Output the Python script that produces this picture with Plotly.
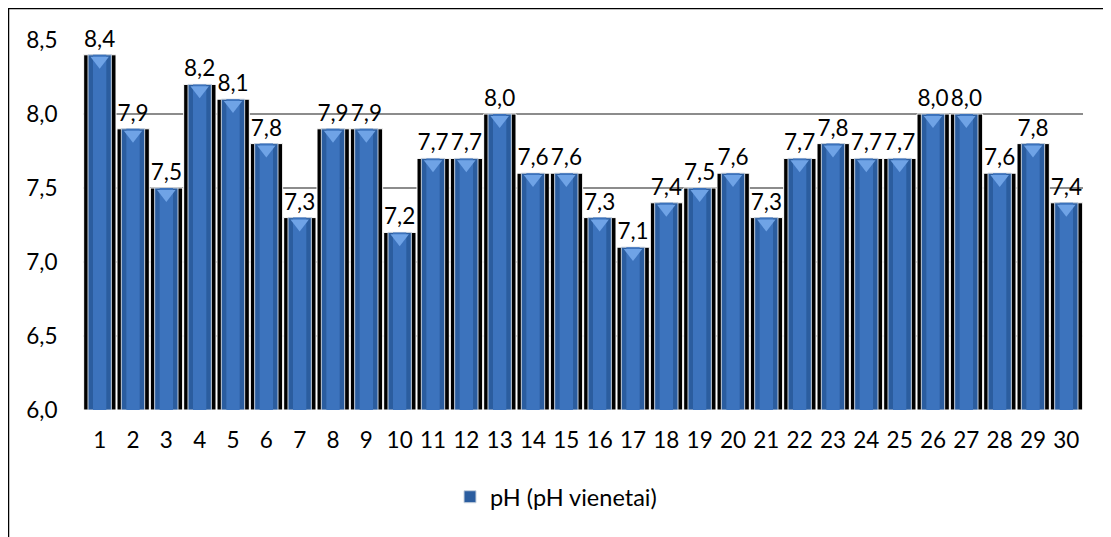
import plotly.graph_objects as go

categories = [str(i) for i in range(1, 31)]
ph_values = [8.4, 7.9, 7.5, 8.2, 8.1, 7.8, 7.3, 7.9, 7.9, 7.2,
             7.7, 7.7, 8.0, 7.6, 7.6, 7.3, 7.1, 7.4, 7.5, 7.6,
             7.3, 7.7, 7.8, 7.7, 7.7, 8.0, 8.0, 7.6, 7.8, 7.4]
series_name = "pH (pH vienetai)"
y_base = 6.0
y_ticks = [6.0, 6.5, 7.0, 7.5, 8.0, 8.5]
y_tick_labels = [f"{v:.1f}".replace(".", ",") for v in y_ticks]
value_labels = [f"{v:.1f}".replace(".", ",") for v in ph_values]
heights = [v - y_base for v in ph_values]

FONT = "Lato"
FS = 22.5

fig = go.Figure()
# dark 3D body behind the front face
fig.add_trace(go.Bar(
    x=categories, y=heights, base=y_base,
    offset=-0.48, width=0.97,
    marker=dict(color="#000000", line=dict(color="#ffffff", width=1)),
    showlegend=False, hoverinfo="skip",
))
# front face (outer, darker blue)
fig.add_trace(go.Bar(
    x=categories, y=heights, base=y_base,
    offset=-0.35, width=0.70,
    name=series_name,
    marker=dict(color="#2b5d9f", line=dict(color="#c8d2de", width=1)),
    text=value_labels, textposition="outside", cliponaxis=False,
    constraintext="none", textangle=0,
    textfont=dict(family=FONT, size=FS, color="#000000"),
))
# lighter centre for cylindrical shading
fig.add_trace(go.Bar(
    x=categories, y=heights, base=y_base,
    offset=-0.20, width=0.40,
    marker=dict(color="#3c73bd", line=dict(width=0)),
    showlegend=False, hoverinfo="skip",
))
# light top facet
fig.add_trace(go.Scatter(
    x=categories, y=[v - 0.04 for v in ph_values], mode="markers",
    marker=dict(symbol="triangle-down", size=16, color="#6fa3e6", line=dict(width=0)),
    showlegend=False, hoverinfo="skip", cliponaxis=False,
))

fig.update_layout(
    width=1111, height=537,
    barmode="overlay",
    paper_bgcolor="white", plot_bgcolor="white",
    margin=dict(l=75, r=36, t=32, b=135),
    font=dict(family=FONT, size=FS, color="#000000"),
    showlegend=True,
    legend=dict(orientation="h", x=0.473, xanchor="center", y=-0.235, yanchor="middle",
                font=dict(family=FONT, size=23.5), itemwidth=30),
    xaxis=dict(type="category", showgrid=False, showline=False, zeroline=False,
               ticks="outside", ticklen=10, tickcolor="rgba(0,0,0,0)",
               range=[-0.5, 29.5]),
    yaxis=dict(range=[6.0, 8.5], tickvals=y_ticks, ticktext=y_tick_labels,
               showgrid=True, gridcolor="#8c8c8c", gridwidth=2, zeroline=False,
               showline=False, ticks="outside", ticklen=20, tickcolor="rgba(0,0,0,0)"),
    shapes=[dict(type="rect", xref="paper", yref="paper",
                 x0=-0.0745, x1=1.027, y0=-0.5, y1=1.085,
                 line=dict(color="#000000", width=1.5), fillcolor="rgba(0,0,0,0)",
                 layer="below")],
)

fig.write_html("out.html")
